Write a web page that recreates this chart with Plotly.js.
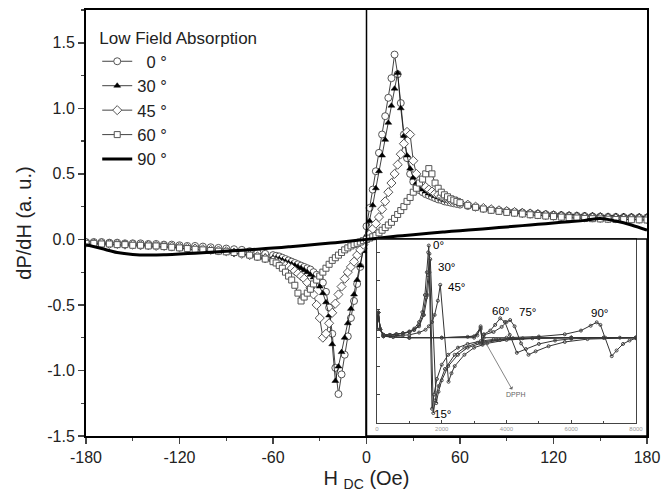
<!DOCTYPE html>
<html><head><meta charset="utf-8">
<script src="https://cdn.plot.ly/plotly-3.0.1.min.js"></script>
<style>html,body{margin:0;padding:0;background:#fff}#chart{width:662px;height:493px}</style>
</head><body><div id="chart"></div>
<script>
// Main plot: field grid (Oe)
const field = [-180,-175,-170,-165,-160,-155,-150,-145,-140,-135,-130,-125,-120,-115,-110,-105,-100,-95,-90,-85,-80,-75,-70,-65,-60,
-58,-56,-54,-52,-50,-48,-46,-44,-42,-40,-38,-36,-34,-32,-30,-28,-26,-24,-22,-20,-18,-16,-14,-12,-10,-8,-6,-4,-2,
0,2,4,6,8,10,12,14,16,18,20,22,24,26,28,30,32,34,36,38,40,42,44,46,48,50,52,54,56,58,
60,65,70,75,80,85,90,95,100,105,110,115,120,125,130,135,140,145,150,155,160,165,170,175,180];

const deg0 = [-0.02,-0.02,-0.02,-0.025,-0.025,-0.03,-0.03,-0.03,-0.035,-0.035,-0.04,-0.04,-0.045,-0.05,-0.05,-0.055,-0.06,-0.065,-0.07,-0.075,-0.08,-0.09,-0.1,-0.11,-0.12,
-0.125,-0.13,-0.14,-0.15,-0.16,-0.17,-0.18,-0.19,-0.2,-0.21,-0.22,-0.23,-0.25,-0.27,-0.29,-0.33,-0.4,-0.52,-0.72,-0.98,-1.18,-1.03,-0.88,-0.74,-0.6,-0.47,-0.34,-0.21,-0.07,
0.1,0.24,0.38,0.52,0.66,0.8,0.94,1.08,1.23,1.41,1.26,1.04,0.8,0.62,0.5,0.44,0.4,0.375,0.36,0.345,0.335,0.325,0.315,0.305,0.3,0.29,0.285,0.28,0.275,0.27,
0.265,0.255,0.245,0.235,0.228,0.222,0.216,0.21,0.205,0.2,0.196,0.192,0.188,0.185,0.182,0.18,0.178,0.176,0.174,0.172,0.171,0.17,0.169,0.168,0.167];

const deg30 = [-0.03,-0.03,-0.035,-0.035,-0.04,-0.04,-0.045,-0.045,-0.05,-0.05,-0.055,-0.055,-0.06,-0.065,-0.07,-0.075,-0.08,-0.085,-0.09,-0.095,-0.1,-0.11,-0.12,-0.13,-0.14,
-0.145,-0.15,-0.16,-0.17,-0.18,-0.19,-0.2,-0.21,-0.22,-0.235,-0.25,-0.27,-0.29,-0.32,-0.36,-0.41,-0.48,-0.58,-0.8,-1.08,-0.97,-0.86,-0.75,-0.64,-0.53,-0.42,-0.31,-0.2,-0.09,
0.03,0.14,0.26,0.39,0.52,0.64,0.76,0.89,1.02,1.15,1.27,1.0,0.79,0.64,0.54,0.47,0.43,0.4,0.38,0.365,0.35,0.34,0.33,0.32,0.31,0.3,0.295,0.29,0.285,0.28,
0.275,0.265,0.255,0.245,0.238,0.232,0.226,0.22,0.215,0.21,0.205,0.2,0.196,0.193,0.19,0.188,0.186,0.184,0.182,0.18,0.179,0.178,0.177,0.176,0.175];

const deg45 = [-0.025,-0.03,-0.03,-0.035,-0.035,-0.04,-0.04,-0.045,-0.045,-0.05,-0.05,-0.055,-0.06,-0.065,-0.07,-0.075,-0.08,-0.085,-0.09,-0.1,-0.11,-0.12,-0.13,-0.145,-0.16,
-0.17,-0.18,-0.19,-0.2,-0.21,-0.22,-0.24,-0.26,-0.28,-0.3,-0.33,-0.37,-0.42,-0.5,-0.6,-0.75,-0.72,-0.64,-0.56,-0.49,-0.42,-0.36,-0.3,-0.25,-0.21,-0.17,-0.12,-0.08,-0.04,
0.0,0.04,0.08,0.12,0.17,0.23,0.29,0.36,0.43,0.5,0.57,0.65,0.73,0.82,0.8,0.6,0.5,0.45,0.42,0.4,0.38,0.365,0.35,0.34,0.33,0.32,0.31,0.3,0.295,0.29,
0.28,0.265,0.25,0.24,0.23,0.222,0.215,0.208,0.2,0.195,0.19,0.185,0.18,0.176,0.172,0.17,0.168,0.166,0.164,0.162,0.16,0.159,0.158,0.157,0.156];

const deg60 = [-0.03,-0.03,-0.035,-0.035,-0.04,-0.04,-0.045,-0.045,-0.05,-0.05,-0.055,-0.06,-0.065,-0.07,-0.075,-0.08,-0.085,-0.09,-0.095,-0.1,-0.11,-0.12,-0.135,-0.15,-0.17,
-0.18,-0.2,-0.22,-0.25,-0.28,-0.31,-0.35,-0.41,-0.47,-0.44,-0.41,-0.38,-0.34,-0.31,-0.28,-0.25,-0.22,-0.19,-0.16,-0.14,-0.12,-0.1,-0.08,-0.065,-0.05,-0.04,-0.03,-0.02,-0.01,
0.0,0.01,0.02,0.03,0.05,0.07,0.09,0.11,0.13,0.16,0.19,0.22,0.25,0.29,0.32,0.36,0.39,0.43,0.46,0.5,0.54,0.5,0.43,0.39,0.36,0.34,0.325,0.31,0.3,0.29,
0.28,0.26,0.245,0.232,0.222,0.214,0.206,0.2,0.194,0.188,0.183,0.178,0.174,0.17,0.166,0.163,0.16,0.158,0.156,0.154,0.152,0.151,0.15,0.149,0.148];

const field90 = [-180,-170,-160,-150,-140,-130,-120,-110,-100,-90,-80,-70,-60,-50,-40,-30,-20,-10,0,10,20,30,40,50,60,70,80,90,100,110,120,130,140,150,160,170,180];
const deg90 = [-0.04,-0.07,-0.1,-0.115,-0.12,-0.118,-0.112,-0.105,-0.098,-0.09,-0.083,-0.075,-0.066,-0.057,-0.047,-0.036,-0.025,-0.012,0,0.012,0.025,0.036,0.047,0.057,0.066,0.075,0.085,0.095,0.105,0.115,0.125,0.135,0.145,0.16,0.14,0.11,0.07];

const seriesNames = ['\u00a0\u00a00 \u00b0','30 \u00b0','45 \u00b0','60 \u00b0','90 \u00b0'];

// Inset (high field) curves
const ins0H = [0,40,100,200,400,600,800,1000,1150,1300,1400,1480,1540,1580,1600,1700,1760,1850,2000,2200,2500,2800,3200,3600,4200,5000,6000,7000,8000];
const ins0V = [0.3,0.88,0.3,0.1,0.1,0.12,0.16,0.22,0.32,0.55,0.9,1.5,2.3,3.0,3.24,-2.5,-2.0,-1.45,-0.95,-0.6,-0.35,-0.22,-0.12,-0.06,-0.02,0,0,0,0];
const ins15H = [0,40,100,200,400,600,800,1000,1150,1300,1420,1510,1580,1620,1740,1800,1900,2100,2400,2700,3100,3700,4500,6000,8000];
const ins15V = [0.3,0.88,0.3,0.1,0.1,0.12,0.15,0.2,0.28,0.45,0.8,1.4,2.2,2.95,-2.65,-2.2,-1.7,-1.1,-0.6,-0.35,-0.18,-0.07,-0.02,0,0];
const ins30H = [0,40,100,200,400,600,800,1000,1150,1300,1450,1560,1620,1645,1830,1900,2000,2200,2500,2800,3200,3800,4800,6000,8000];
const ins30V = [0.3,0.88,0.3,0.1,0.1,0.12,0.15,0.2,0.27,0.4,0.8,1.5,2.3,2.76,-2.3,-1.9,-1.5,-1.0,-0.6,-0.35,-0.2,-0.08,-0.02,0,0];
const ins45H = [0,40,100,200,400,800,1000,1300,1500,1600,1700,1780,1880,1954,2210,2300,2400,2700,3000,3400,4000,5000,6000,8000];
const ins45V = [0.3,0.88,0.3,0.08,0.06,0.08,0.1,0.18,0.28,0.4,0.55,0.8,1.3,1.86,-1.55,-1.25,-1.0,-0.6,-0.35,-0.2,-0.08,-0.02,0,0];
const ins60H = [0,40,100,200,500,1000,2000,2800,3100,3200,3260,3300,3500,3650,3805,3950,4100,4320,4600,5000,5500,6000,7000,8000];
const ins60V = [0.3,0.88,0.3,0.05,0.02,0,0,0.03,0.08,0.4,-0.25,0.12,0.25,0.45,0.68,0.55,0.1,-0.53,-0.4,-0.22,-0.1,-0.04,0,0];
const ins75H = [0,40,100,200,1000,2000,3000,3200,3260,3300,3600,3850,4000,4113,4250,4450,4680,4900,5300,5800,6500,7500,8000];
const ins75V = [0.3,0.88,0.3,0.05,0,0,0.05,0.35,-0.2,0.1,0.2,0.38,0.55,0.62,0.4,-0.2,-0.6,-0.48,-0.3,-0.15,-0.05,0,0];
const ins90H = [0,40,100,200,1000,3000,3200,3260,3300,4000,5000,5800,6300,6600,6787,6900,7050,7250,7400,7600,7800,8000];
const ins90V = [0.3,0.88,0.3,0.05,0,0,0.3,-0.2,0,0,0.04,0.12,0.25,0.42,0.54,0.45,0,-0.65,-0.45,-0.22,-0.1,-0.02];

const insetLabels = ['0\u00b0','30\u00b0','45\u00b0','60\u00b0','75\u00b0','90\u00b0','15\u00b0'];
const insetLabelH = [1900,2150,2450,3800,4640,6880,2020];
const insetLabelV = [3.25,2.5,1.8,0.95,0.9,0.86,-2.7];

const xTicks = [-180,-120,-60,0,60,120,180];
const xTickText = ['-180','-120','-60','0','60','120','180'];
const yTicks = [-1.5,-1.0,-0.5,0,0.5,1.0,1.5];
const yTickText = ['-1.5','-1.0','-0.5','0.0','0.5','1.0','1.5'];
const insXTicks = [0,2000,4000,6000,8000];

const FONT = 'Liberation Sans, Arial, sans-serif';
const mline = {color:'#555', width:1};
const traces = [
 {x:field, y:deg0, name:seriesNames[0], mode:'lines+markers', line:{color:'#111',width:0.8},
  marker:{symbol:'circle', size:7, color:'#fff', line:mline}},
 {x:field, y:deg30, name:seriesNames[1], mode:'lines+markers', line:{color:'#111',width:0.8},
  marker:{symbol:'triangle-up', size:6, color:'#000', line:{color:'#000',width:0.5}}},
 {x:field, y:deg45, name:seriesNames[2], mode:'lines+markers', line:{color:'#111',width:0.8},
  marker:{symbol:'diamond', size:7, color:'#fff', line:mline}},
 {x:field, y:deg60, name:seriesNames[3], mode:'lines+markers', line:{color:'#111',width:0.8},
  marker:{symbol:'square', size:6, color:'#fff', line:mline}},
 {x:field90, y:deg90, name:seriesNames[4], mode:'lines', line:{color:'#000',width:3, shape:'spline'}}
];
const insets = [[ins0H,ins0V],[ins15H,ins15V],[ins30H,ins30V],[ins45H,ins45V],[ins60H,ins60V],[ins75H,ins75V],[ins90H,ins90V]];
insets.forEach(p => traces.push({x:p[0], y:p[1], xaxis:'x2', yaxis:'y2', mode:'lines+markers', showlegend:false,
  line:{color:'#333', width:1}, marker:{symbol:'circle-open', size:3, color:'#444'}}));

const annotations = insetLabels.map((t,i)=>({x:insetLabelH[i], y:insetLabelV[i], xref:'x2', yref:'y2', text:t,
  showarrow:false, font:{family:FONT, size:11.5, color:'#000'}}));
annotations.push({x:3274, y:-0.01, xref:'x2', yref:'y2', ax:4263, ay:-2.0, axref:'x2', ayref:'y2', text:'DPPH',
  showarrow:true, arrowside:'start', arrowhead:2, arrowsize:0.8, arrowwidth:0.8, arrowcolor:'#666',
  font:{family:FONT, size:7, color:'#666'}});

const layout = {
  width:662, height:493, margin:{l:86, r:15, t:10, b:57},
  paper_bgcolor:'#fff', plot_bgcolor:'#fff',
  font:{family:FONT, size:16, color:'#222'},
  showlegend:true,
  legend:{x:0.02, y:0.972, xanchor:'left', yanchor:'top', bgcolor:'rgba(0,0,0,0)',
    title:{text:'Low Field Absorption', font:{family:FONT, size:17, color:'#222'}},
    font:{family:FONT, size:16.5, color:'#222'}, tracegroupgap:0, itemwidth:30},
  xaxis:{range:[-180,180], tickvals:xTicks, ticktext:xTickText, ticks:'outside', ticklen:6, tickwidth:1.5,
    showline:true, linewidth:2, linecolor:'#000', mirror:true, showgrid:false, zeroline:false,
    minor:{dtick:30, ticks:'outside', ticklen:3, tickwidth:1.2, showgrid:false},
    title:{text:'H <sub>DC</sub> (Oe)', font:{family:FONT, size:20, color:'#222'}, standoff:6},
    tickfont:{family:FONT, size:16, color:'#222'}, automargin:false},
  yaxis:{range:[-1.5,1.75], tickvals:yTicks, ticktext:yTickText, ticks:'outside', ticklen:6, tickwidth:1.5,
    showline:true, linewidth:2, linecolor:'#000', mirror:true, showgrid:false, zeroline:false,
    minor:{dtick:0.25, ticks:'outside', ticklen:3, tickwidth:1.2, showgrid:false},
    title:{text:'dP/dH (a. u.)', font:{family:FONT, size:20, color:'#222'}, standoff:10},
    tickfont:{family:FONT, size:16, color:'#222'}, automargin:false},
  xaxis2:{domain:[0.5187,0.9804], anchor:'y2', range:[0,8000], tickvals:insXTicks, ticks:'inside', ticklen:3,
    showline:true, linewidth:1, linecolor:'#444', mirror:true, showgrid:false, zeroline:false,
    minor:{dtick:1000, ticks:'inside', ticklen:2}, tickfont:{family:FONT, size:6, color:'#999'}},
  yaxis2:{domain:[0.0305,0.4624], anchor:'x2', range:[-3,3.47], dtick:1, ticks:'inside', ticklen:3,
    showline:true, linewidth:1, linecolor:'#444', mirror:true, showgrid:false, zeroline:false, showticklabels:false},
  shapes:[
    {type:'line', xref:'x', yref:'paper', x0:0, x1:0, y0:0, y1:1, line:{color:'#000', width:1.5}},
    {type:'rect', xref:'paper', yref:'paper', x0:0.4991, x1:1, y0:0, y1:0.4624, line:{color:'#000', width:1.5}}
  ],
  annotations:annotations
};
Plotly.newPlot('chart', traces, layout, {displayModeBar:false, staticPlot:true});
</script></body></html>
